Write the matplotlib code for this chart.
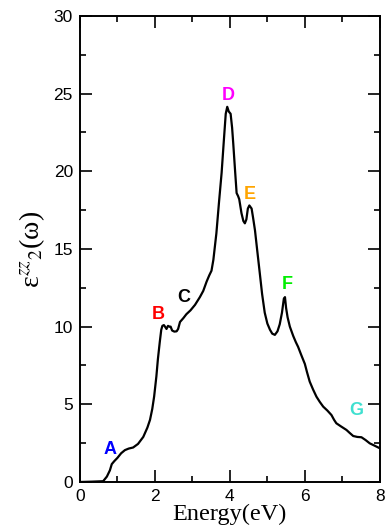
import matplotlib
matplotlib.use("Agg")
import matplotlib.pyplot as plt
from matplotlib.ticker import MultipleLocator

# Imaginary part of the dielectric function, zz component
energy = [0.0, 0.3, 0.62, 0.72, 0.8, 0.85, 0.92, 1.0, 1.1, 1.2, 1.3, 1.42, 1.55, 1.69,
          1.8, 1.87, 1.93, 1.98, 2.04, 2.08, 2.13, 2.17, 2.2, 2.24, 2.27, 2.31, 2.35,
          2.39, 2.42, 2.46, 2.52, 2.58, 2.62, 2.67, 2.76, 2.84, 2.95, 3.07, 3.2, 3.29,
          3.38, 3.45, 3.51, 3.56, 3.64, 3.71, 3.78, 3.84, 3.89, 3.93, 3.97, 4.02, 4.06,
          4.09, 4.14, 4.18, 4.22, 4.25, 4.31, 4.36, 4.4, 4.44, 4.48, 4.52, 4.58, 4.62,
          4.67, 4.73, 4.8, 4.86, 4.93, 5.0, 5.07, 5.13, 5.2, 5.27, 5.33, 5.39, 5.44,
          5.47, 5.5, 5.54, 5.6, 5.69, 5.76, 5.82, 5.9, 6.0, 6.06, 6.13, 6.22, 6.31,
          6.4, 6.49, 6.6, 6.71, 6.78, 6.84, 6.95, 7.11, 7.2, 7.29, 7.4, 7.51, 7.62,
          7.73, 7.85, 8.0]
eps2_zz = [0.0, 0.02, 0.05, 0.35, 0.75, 1.15, 1.35, 1.55, 1.85, 2.05, 2.15, 2.22, 2.45,
           2.9, 3.5, 4.0, 4.7, 5.5, 6.8, 7.9, 9.0, 9.8, 10.05, 10.1, 10.0, 9.85, 10.05,
           10.0, 10.0, 9.75, 9.68, 9.7, 9.85, 10.3, 10.55, 10.8, 11.05, 11.4, 11.9,
           12.3, 12.9, 13.3, 13.6, 14.3, 16.0, 18.0, 19.9, 22.0, 23.7, 24.15, 23.85,
           23.7, 22.8, 21.8, 20.0, 18.6, 18.4, 18.2, 17.3, 16.8, 16.65, 16.9, 17.6,
           17.8, 17.6, 17.0, 16.2, 14.9, 13.4, 12.1, 10.9, 10.2, 9.8, 9.55, 9.47, 9.7,
           10.15, 10.9, 11.8, 11.9, 11.2, 10.6, 10.0, 9.4, 9.0, 8.7, 8.2, 7.6, 7.05,
           6.46, 5.95, 5.49, 5.15, 4.85, 4.6, 4.31, 4.0, 3.78, 3.6, 3.35, 3.15, 2.96,
           2.9, 2.88, 2.7, 2.49, 2.35, 2.17]

# Peak labels and their positions (energy, value)
peak_names = ["A", "B", "C", "D", "E", "F", "G"]
peak_x = [0.8, 2.08, 2.77, 3.97, 4.53, 5.52, 7.36]
peak_y = [2.1, 10.8, 11.85, 24.9, 18.5, 12.7, 4.6]
peak_colors = ["#0000ff", "#ff0000", "#000000", "#ff00ff", "#ffa500", "#00ee00", "#40e0d0"]

plt.rcParams["mathtext.fontset"] = "stix"

fig = plt.figure(figsize=(3.86, 5.31), dpi=100)
ax = fig.add_axes([0.207, 0.0923, 0.777, 0.8777])

ax.plot(energy, eps2_zz, color="black", lw=1.6)

for name, x, y, c in zip(peak_names, peak_x, peak_y, peak_colors):
    ax.text(x, y, name, color=c, fontsize=13, fontweight="bold",
            family="Liberation Sans", ha="center", va="center")

ax.set_xlim(0, 8)
ax.set_ylim(0, 30)
ax.xaxis.set_major_locator(MultipleLocator(2))
ax.xaxis.set_minor_locator(MultipleLocator(1))
ax.yaxis.set_major_locator(MultipleLocator(5))
ax.yaxis.set_minor_locator(MultipleLocator(2.5))
ax.tick_params(which="both", direction="in", top=True, right=True, width=1.2)
ax.tick_params(which="major", length=8.5, labelsize=12.5, pad=5)
ax.tick_params(which="minor", length=4.5)
for lab in ax.get_xticklabels() + ax.get_yticklabels():
    lab.set_family("Liberation Sans")
for sp in ax.spines.values():
    sp.set_linewidth(1.4)

ax.set_xlabel("Energy(eV)", family="Liberation Serif", fontsize=17.5)
ax.xaxis.set_label_coords(0.5, -0.047)
ax.set_ylabel("ε$^{zz}{}_{2}$(ω)", family="Liberation Serif", fontsize=20)
ax.yaxis.set_label_coords(-0.11, 0.5)

fig.savefig("out.png", dpi=100)
